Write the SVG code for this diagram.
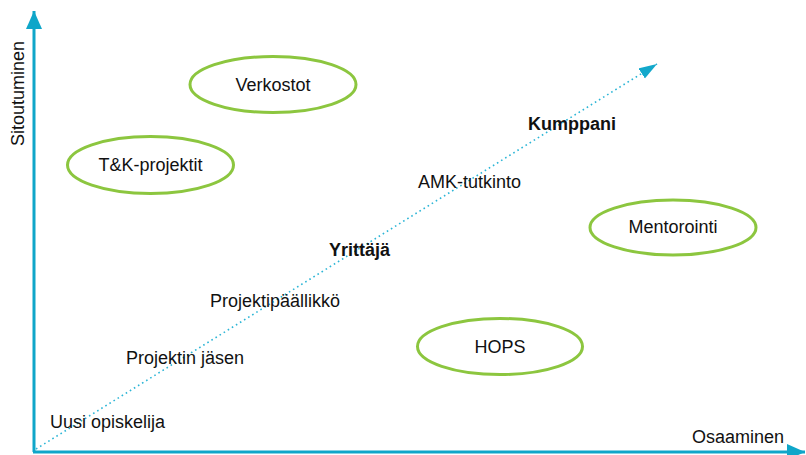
<svg xmlns="http://www.w3.org/2000/svg" width="806" height="455" viewBox="0 0 806 455">
  <style>
    text { font-family: "Liberation Sans", Arial, sans-serif; font-size: 18px; fill: #111; }
    .b { font-weight: bold; }
    .node ellipse { fill: none; stroke: #8cc63f; stroke-width: 3; }
    .axis { stroke: #0fa6c9; stroke-width: 3; fill: none; }
    .trend { stroke: #2bb5d6; stroke-width: 1.6; stroke-dasharray: 1.6 3.2; fill: none; }
  </style>
  <defs>
    <marker id="ah" markerUnits="userSpaceOnUse" markerWidth="20" markerHeight="20" refX="18" refY="8" orient="auto">
      <polygon points="0,0 18,8 0,16" fill="#0fa6c9"/>
    </marker>
    <marker id="ah2" markerUnits="userSpaceOnUse" markerWidth="20" markerHeight="20" refX="18" refY="6" orient="auto">
      <polygon points="0,0 18,6 0,12" fill="#13a8cb"/>
    </marker>
  </defs>
  <rect width="806" height="455" fill="#fff"/>
  <g id="axes">
    <path class="axis" d="M34,452 V11" marker-end="url(#ah)"/>
    <path class="axis" d="M33,452 H805" marker-end="url(#ah)"/>
    <text x="24" y="146" transform="rotate(-90 24 146)">Sitoutuminen</text>
    <text x="692" y="443">Osaaminen</text>
  </g>
  <g id="connectors">
    <path class="trend" d="M36,449 L657,64" marker-end="url(#ah2)"/>
  </g>
  <g id="labels">
    <text x="50" y="428">Uusi opiskelija</text>
    <text x="126" y="364">Projektin jäsen</text>
    <text x="210" y="307">Projektipäällikkö</text>
    <text class="b" x="329" y="256">Yrittäjä</text>
    <text x="418" y="188">AMK-tutkinto</text>
    <text class="b" x="528" y="130">Kumppani</text>
  </g>
  <g id="verkostot" class="node">
    <ellipse cx="273" cy="84.5" rx="83" ry="28"/>
    <text x="273" y="91" text-anchor="middle">Verkostot</text>
  </g>
  <g id="tk-projektit" class="node">
    <ellipse cx="150.5" cy="165" rx="83" ry="28.5"/>
    <text x="150.5" y="171" text-anchor="middle">T&amp;K-projektit</text>
  </g>
  <g id="mentorointi" class="node">
    <ellipse cx="673" cy="227.5" rx="83" ry="27.5"/>
    <text x="673" y="233" text-anchor="middle">Mentorointi</text>
  </g>
  <g id="hops" class="node">
    <ellipse cx="500" cy="346.5" rx="82.5" ry="28"/>
    <text x="500" y="353" text-anchor="middle">HOPS</text>
  </g>
</svg>
